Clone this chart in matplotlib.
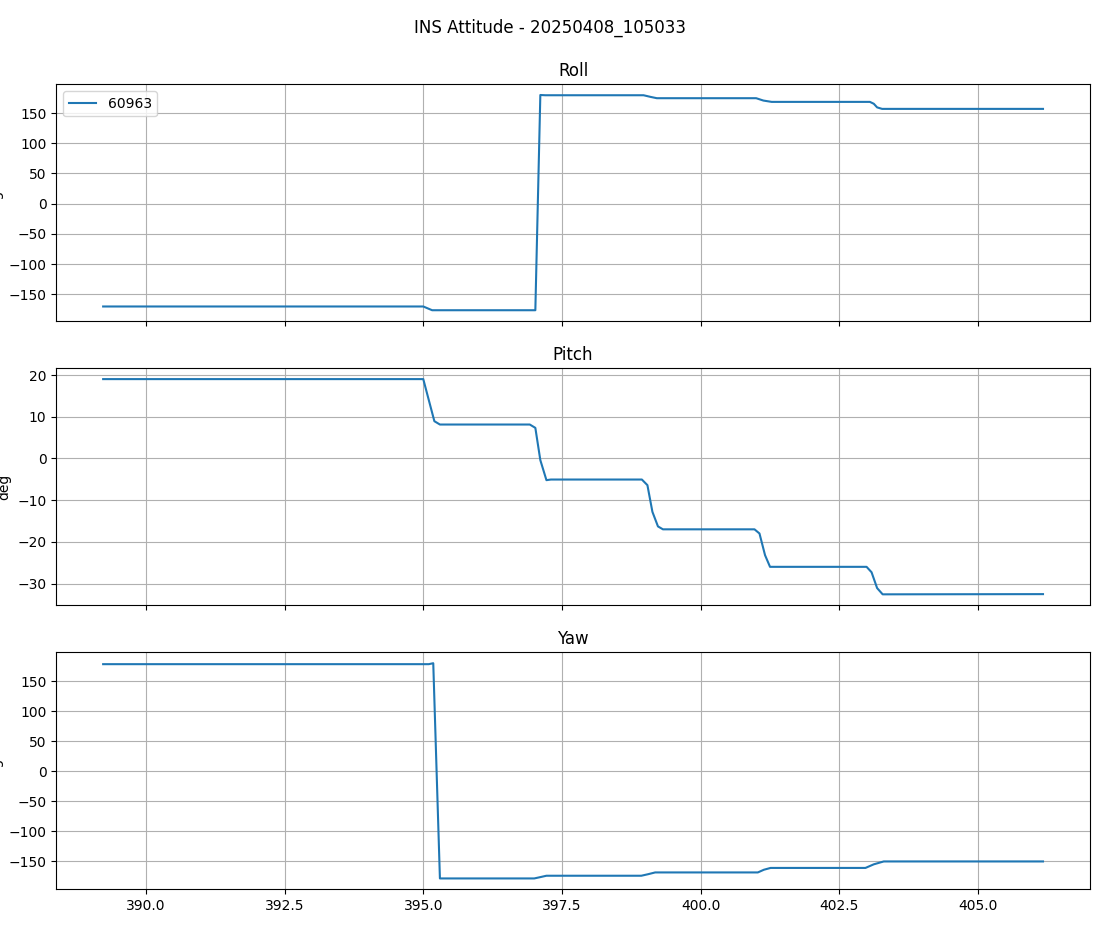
import matplotlib
matplotlib.use("Agg")
import matplotlib.pyplot as plt

# Vertex data (time [s], angle [deg])
roll_t = [389.23, 395.0, 395.16, 397.02, 397.11, 397.2, 398.97, 399.1, 399.21,
          401.0, 401.13, 401.28, 403.05, 403.12, 403.18, 403.27, 406.17]
roll_v = [-170.3, -170.3, -176.5, -176.5, 180.0, 179.6, 179.6, 176.8, 174.7,
          174.7, 170.8, 168.6, 168.6, 165.5, 159.5, 157.0, 157.0]

pitch_t = [389.23, 395.0, 395.2, 395.3, 396.92, 397.02, 397.11, 397.22, 397.3,
           398.94, 399.04, 399.13, 399.23, 399.32, 400.97, 401.06, 401.16, 401.25,
           402.99, 403.08, 403.18, 403.28, 406.17]
pitch_v = [19.05, 19.05, 8.95, 8.15, 8.15, 7.35, -0.4, -5.2, -5.05,
           -5.05, -6.4, -12.8, -16.3, -17.0, -17.0, -18.0, -23.2, -26.0,
           -26.0, -27.3, -31.1, -32.6, -32.55]

yaw_t = [389.23, 395.0, 395.1, 395.18, 395.3, 397.0, 397.1, 397.22,
         398.93, 399.05, 399.18, 401.03, 401.14, 401.26, 402.97, 403.12, 403.3, 406.17]
yaw_v = [178.3, 178.3, 178.3, 179.9, -178.5, -178.5, -176.5, -174.0,
         -174.0, -171.5, -168.5, -168.5, -164.0, -161.0, -161.0, -155.0, -150.2, -150.2]

series_label = "60963"
titles = ["Roll", "Pitch", "Yaw"]
suptitle = "INS Attitude - 20250408_105033"

fig, axes = plt.subplots(3, 1, figsize=(11.01, 9.36), dpi=100, sharex=True)
fig.subplots_adjust(left=0.051, right=0.990, top=0.910, bottom=0.050, hspace=0.2)

for ax, t, v, title in zip(axes, [roll_t, pitch_t, yaw_t], [roll_v, pitch_v, yaw_v], titles):
    ax.plot(t, v, color="C0", label=series_label)
    ax.set_title(title)
    ax.set_ylabel("deg")
    ax.grid(True)

axes[0].legend(loc="upper left")
fig.suptitle(suptitle)

fig.savefig("out.png", dpi=100)
